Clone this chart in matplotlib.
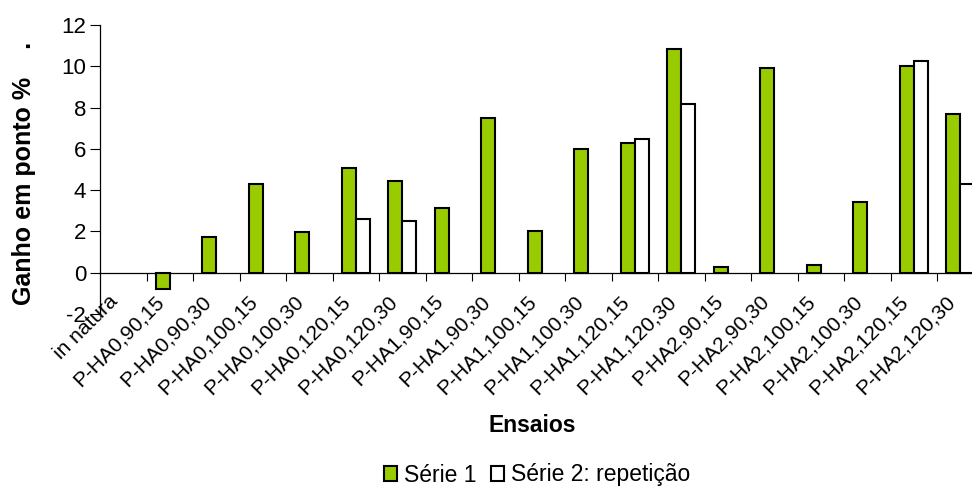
import matplotlib
matplotlib.use("Agg")
import matplotlib.pyplot as plt
import matplotlib.transforms as mtransforms
from matplotlib.patches import Patch
import numpy as np

plt.rcParams['font.family'] = ['Liberation Sans', 'DejaVu Sans']

categories = ["in natura", "P-HA0,90,15", "P-HA0,90,30", "P-HA0,100,15", "P-HA0,100,30",
              "P-HA0,120,15", "P-HA0,120,30", "P-HA1,90,15", "P-HA1,90,30", "P-HA1,100,15",
              "P-HA1,100,30", "P-HA1,120,15", "P-HA1,120,30", "P-HA2,90,15", "P-HA2,90,30",
              "P-HA2,100,15", "P-HA2,100,30", "P-HA2,120,15", "P-HA2,120,30"]
serie1 = [np.nan, -0.80, 1.71, 4.30, 1.96, 5.06, 4.44, 3.13, 7.48, 2.03, 5.99, 6.30, 10.82,
          0.29, 9.90, 0.37, 3.41, 10.01, 7.67]
serie2 = [np.nan, np.nan, np.nan, np.nan, np.nan, 2.60, 2.52, np.nan, np.nan, np.nan, np.nan,
          6.46, 8.19, np.nan, np.nan, np.nan, np.nan, 10.27, 4.30]
yticks = [-2, 0, 2, 4, 6, 8, 10, 12]

W, H = 972, 487
fig = plt.figure(figsize=(W / 100, H / 100), dpi=100)
ax = fig.add_axes([100 / W, 1 - 314 / H, 883.5 / W, 289 / H])

x = np.arange(len(categories))
bw = 0.30
green = "#99CC00"
ax.bar(x - bw / 2, serie1, width=bw, color=green, edgecolor="black", linewidth=1.5, zorder=3)
ax.bar(x + bw / 2, serie2, width=bw, color="white", edgecolor="black", linewidth=1.5, zorder=3)

ax.set_xlim(-0.5, len(categories) - 0.5)
ax.set_ylim(-2, 12)
ax.set_yticks(yticks)
ax.set_yticklabels([str(v) for v in yticks], fontsize=16)
ax.set_xticks(np.arange(0.5, len(categories), 1))
ax.set_xticklabels([])
ax.tick_params(axis='x', direction='out', length=6, width=0.8, colors='black')
ax.tick_params(axis='y', direction='out', length=7, width=0.8, pad=3, colors='black')

for s in ['top', 'right']:
    ax.spines[s].set_visible(False)
ax.spines['bottom'].set_position(('data', 0))
ax.spines['bottom'].set_linewidth(0.9)
ax.spines['left'].set_linewidth(0.9)

trans = mtransforms.offset_copy(ax.transData, fig=fig, x=-15, y=-19, units='dots')
for i, lab in enumerate(categories):
    ax.text(i, 0, lab, transform=trans, rotation=45, rotation_mode='anchor',
            ha='right', va='top', fontsize=15)

fig.text(532 / W, 1 - 425 / H, "Ensaios", ha='center',
         va='center', fontsize=16.5, fontweight='bold')
fig.text(24 / W, 1 - 173 / H, "Ganho em ponto %    .", rotation=90, ha='center',
         va='center', fontsize=18, fontweight='bold')

handles = [Patch(facecolor=green, edgecolor='black', linewidth=1.5),
           Patch(facecolor='white', edgecolor='black', linewidth=1.5)]
fig.legend(handles, ["Série 1", "Série 2: repetição"], loc='center',
           bbox_to_anchor=(537 / W, 1 - 475 / H), ncol=2, frameon=False,
           fontsize=16.5, handlelength=0.6, handleheight=0.6, handletextpad=0.3,
           columnspacing=0.6, borderpad=0)

fig.savefig("out.png", dpi=100)
